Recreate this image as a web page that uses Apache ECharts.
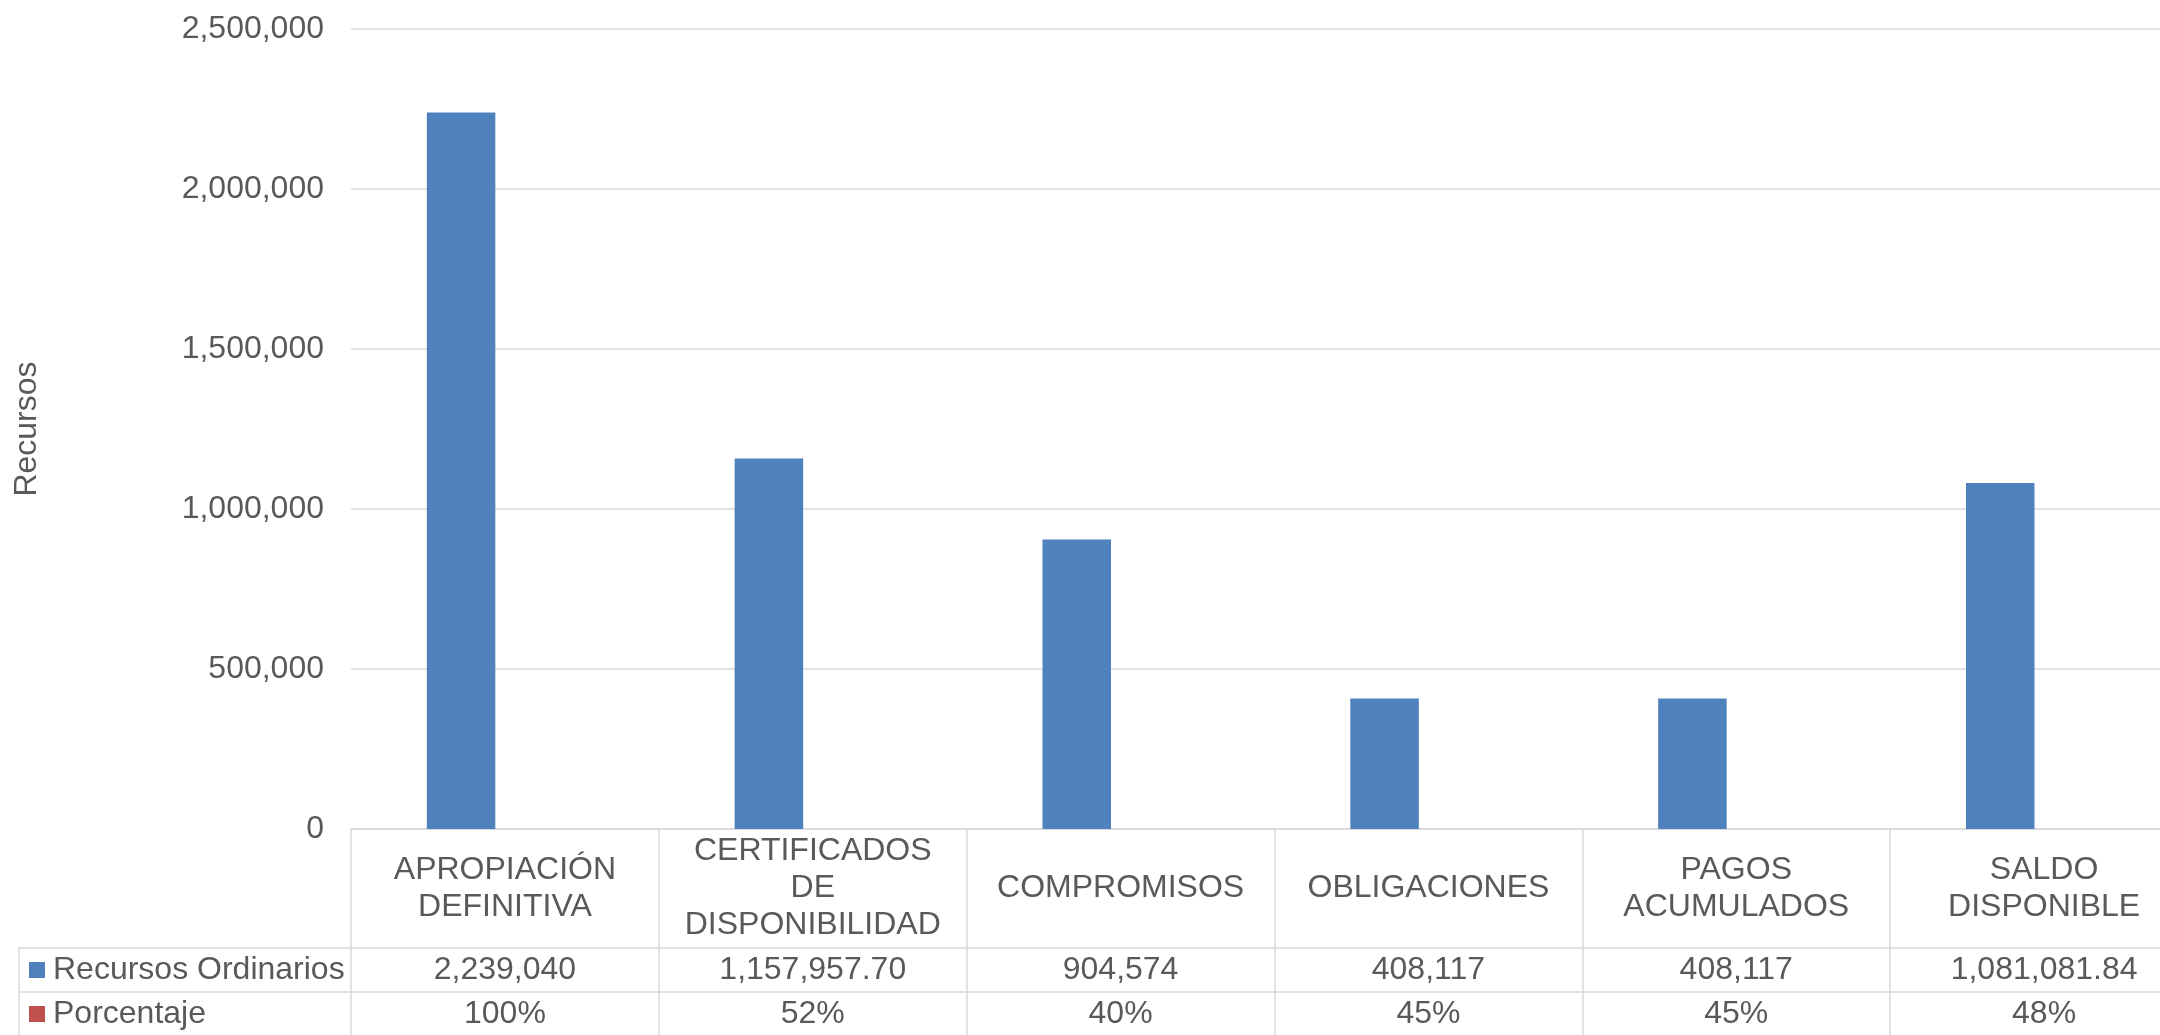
<!DOCTYPE html>
<html>
<head>
<meta charset="utf-8">
<script src="https://cdn.jsdelivr.net/npm/echarts@6/dist/echarts.min.js"></script>
<style>
html,body{margin:0;padding:0;background:#fff;overflow:hidden;width:2160px;height:1035px;}
#chart{width:2198px;height:1045px;}
</style>
</head>
<body>
<div id="chart"></div>
<script>
// ---- data ----
var categories = ['APROPIACIÓN\nDEFINITIVA', 'CERTIFICADOS\nDE\nDISPONIBILIDAD', 'COMPROMISOS', 'OBLIGACIONES', 'PAGOS\nACUMULADOS', 'SALDO\nDISPONIBLE'];
var recursosOrdinarios = [2239040, 1157957.70, 904574, 408117, 408117, 1081081.84];
var porcentaje = [1.00, 0.52, 0.40, 0.45, 0.45, 0.48];
var seriesNames = ['Recursos Ordinarios', 'Porcentaje'];
var yTicks = {min: 0, max: 2500000, interval: 500000};

var FONT = 'Liberation Sans, Arial, sans-serif';
var TXT = '#595959';
var LINE = '#D9D9D9';

function fmtNum(v) {
  var isInt = Math.abs(v - Math.round(v)) < 1e-9;
  return v.toLocaleString('en-US', {minimumFractionDigits: isInt ? 0 : 2, maximumFractionDigits: 2});
}
function fmtPct(v) { return Math.round(v * 100) + '%'; }

function legendFor(name, top) {
  return {
    orient: 'horizontal',
    left: 29,
    top: top,
    padding: 0,
    itemGap: 0,
    itemWidth: 16,
    itemHeight: 16,
    icon: 'rect',
    selectedMode: false,
    textStyle: {fontFamily: FONT, fontSize: 32, color: TXT, lineHeight: 44, padding: [0, 0, 0, 3]},
    data: [name]
  };
}

var chart = echarts.init(document.getElementById('chart'), null, {renderer: 'canvas'});
var option = {
  animation: false,
  backgroundColor: '#ffffff',
  textStyle: {fontFamily: FONT},
  legend: [legendFor(seriesNames[0], 948), legendFor(seriesNames[1], 992)],
  grid: [
    {left: 351, top: 29, right: 0, bottom: 216, containLabel: false},
    {left: 19, top: 948, right: 0, height: 88, containLabel: false}
  ],
  xAxis: [
    {
      type: 'category', gridIndex: 0, data: categories, boundaryGap: true,
      axisLine: {show: true, lineStyle: {color: LINE, width: 1.5}},
      axisTick: {show: true, interval: 0, length: 207, lineStyle: {color: LINE, width: 1.5}},
      axisLabel: {interval: 0, margin: 59.5, verticalAlign: 'middle', fontFamily: FONT, fontSize: 32, color: TXT, lineHeight: 37, align: 'center'},
      splitLine: {show: false}
    },
    {
      type: 'category', gridIndex: 0, data: categories, boundaryGap: true, position: 'bottom',
      axisLine: {show: false}, axisTick: {show: false},
      axisLabel: {interval: 0, margin: 141, verticalAlign: 'middle', fontFamily: FONT, fontSize: 32, color: TXT,
        formatter: function (v, i) { return fmtNum(recursosOrdinarios[i]); }}
    },
    {
      type: 'category', gridIndex: 0, data: categories, boundaryGap: true, position: 'bottom',
      axisLine: {show: false}, axisTick: {show: false},
      axisLabel: {interval: 0, margin: 185, verticalAlign: 'middle', fontFamily: FONT, fontSize: 32, color: TXT,
        formatter: function (v, i) { return fmtPct(porcentaje[i]); }}
    },
    {
      type: 'value', gridIndex: 1, min: 0, max: 1, show: false
    }
  ],
  yAxis: [
    {
      type: 'value', gridIndex: 0, min: yTicks.min, max: yTicks.max, interval: yTicks.interval,
      name: 'Recursos', nameLocation: 'middle', nameGap: 308, nameRotate: 90,
      nameTextStyle: {fontFamily: FONT, fontSize: 32, color: TXT},
      axisLine: {show: false}, axisTick: {show: false},
      axisLabel: {margin: 27, fontFamily: FONT, fontSize: 32, color: TXT,
        formatter: function (v) { return v.toLocaleString('en-US'); }},
      splitLine: {show: true, lineStyle: {color: LINE, width: 1.5}}
    },
    {
      type: 'value', gridIndex: 1, min: 0, max: 88, interval: 44, inverse: true,
      axisLine: {show: true, lineStyle: {color: LINE, width: 1.5}},
      axisTick: {show: false}, axisLabel: {show: false},
      splitLine: {show: true, lineStyle: {color: LINE, width: 1.5}}
    }
  ],
  series: [
    {
      name: seriesNames[0], type: 'bar', xAxisIndex: 0, yAxisIndex: 0,
      data: recursosOrdinarios, barWidth: 68.5, barGap: '28%',
      itemStyle: {color: '#4F81BD'}
    },
    {
      name: seriesNames[1], type: 'bar', xAxisIndex: 0, yAxisIndex: 0,
      data: porcentaje, barWidth: 68.5, barGap: '28%',
      itemStyle: {color: '#C0504D'}
    }
  ]
};
chart.setOption(option);
</script>
</body>
</html>
